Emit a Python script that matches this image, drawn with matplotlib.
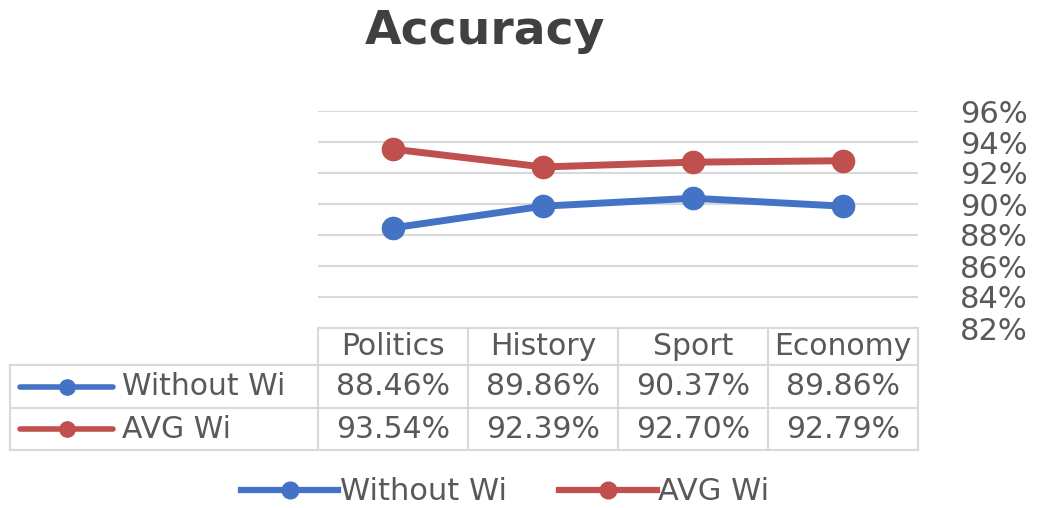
import matplotlib.pyplot as plt
from matplotlib.lines import Line2D

categories = ["Politics", "History", "Sport", "Economy"]
series_names = ["Without Wi", "AVG Wi"]
without_wi = [88.46, 89.86, 90.37, 89.86]
avg_wi = [93.54, 92.39, 92.70, 92.79]
y_ticks = [82, 84, 86, 88, 90, 92, 94, 96]

colors = ["#4472C4", "#C0504D"]
text_col = "#595959"
grid_col = "#d9d9d9"
fs = 21.5

plt.rcParams["font.family"] = ["DejaVu Sans"]

W, H = 1040, 508
fig = plt.figure(figsize=(W / 100, H / 100), dpi=100)

# overlay in pixel coords for the data table (hard-coded layout, Excel style)
ov = fig.add_axes([0, 0, 1, 1])
ov.set_xlim(0, W)
ov.set_ylim(H, 0)
ov.axis("off")

left, right, top, bottom = 318, 918, 111, 328
ax = fig.add_axes([left / W, 1 - bottom / H, (right - left) / W, (bottom - top) / H])
ax.patch.set_alpha(0)

x = range(len(categories))
for vals, c, name in zip([without_wi, avg_wi], colors, series_names):
    ax.plot(x, vals, color=c, lw=5, marker="o", ms=16, label=name,
            solid_capstyle="round")

ax.set_xlim(-0.5, len(categories) - 0.5)
ax.set_ylim(y_ticks[0], y_ticks[-1])
ax.set_yticks(y_ticks)
ax.set_yticklabels([f"{t}%" for t in y_ticks])
ax.yaxis.tick_right()
ax.tick_params(axis="y", length=0, pad=30, labelsize=fs + 0.5, labelcolor=text_col)
ax.set_xticks([])
ax.grid(axis="y", color=grid_col, lw=1.5)
for s in ax.spines.values():
    s.set_visible(False)

# data table
col_w = (right - left) / len(categories)
rows_y = [328, 365, 408, 450]
lc = "#d9d9d9"
ov.plot([left, right], [rows_y[0]] * 2, color=lc, lw=1.5)
for yy in rows_y[1:]:
    ov.plot([10, right], [yy, yy], color=lc, lw=1.5)
ov.plot([10, 10], [rows_y[1], rows_y[3]], color=lc, lw=1.5)
for i in range(len(categories) + 1):
    xx = left + i * col_w
    ov.plot([xx, xx], [rows_y[0], rows_y[3]], color=lc, lw=1.5)

for i, cat in enumerate(categories):
    ov.text(left + (i + 0.5) * col_w, (rows_y[0] + rows_y[1]) / 2, cat,
            ha="center", va="center", fontsize=fs, color=text_col)
for r, (vals, c, name) in enumerate(zip([without_wi, avg_wi], colors, series_names)):
    yc = (rows_y[r + 1] + rows_y[r + 2]) / 2
    ov.plot([20, 113], [yc, yc], color=c, lw=4, solid_capstyle="round")
    ov.plot([67], [yc], "o", color=c, ms=11)
    ov.text(122, yc, name, ha="left", va="center", fontsize=fs, color=text_col)
    for i, v in enumerate(vals):
        ov.text(left + (i + 0.5) * col_w, yc, f"{v:.2f}%",
                ha="center", va="center", fontsize=fs, color=text_col)

fig.text(485 / W, 1 - 31 / H, "Accuracy", ha="center", va="center",
         fontsize=34, fontweight="bold", color="#404040")

handles = [Line2D([], [], color=c, lw=4.5, marker="o", ms=12) for c in colors]
fig.legend(handles, series_names, loc="center", bbox_to_anchor=(505 / W, 1 - 492 / H),
           ncol=2, frameon=False, fontsize=fs + 0.5, labelcolor=text_col,
           handlelength=3.2, handletextpad=0.05, columnspacing=1.7)

fig.savefig("out.png", dpi=100)
